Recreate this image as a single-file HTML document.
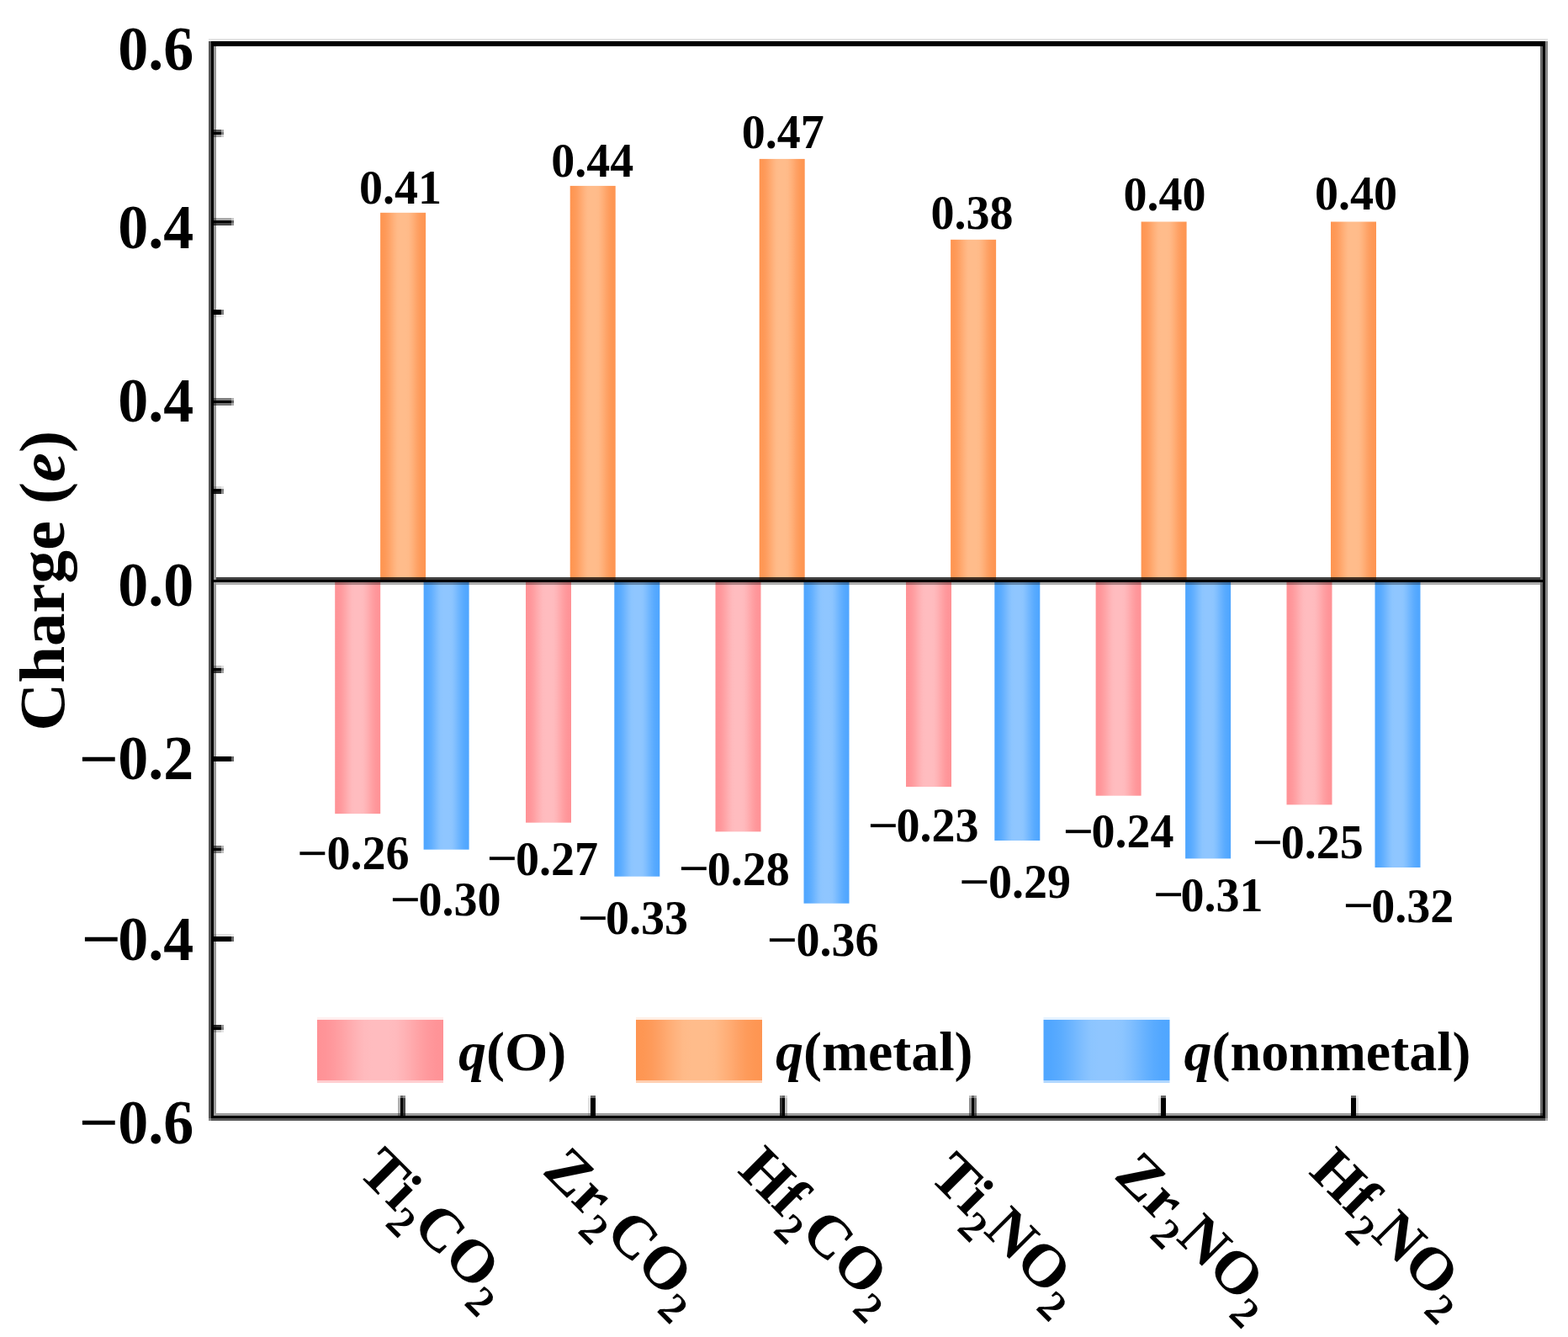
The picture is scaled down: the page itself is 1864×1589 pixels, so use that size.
<!DOCTYPE html>
<html><head><meta charset="utf-8"><title>Charge</title>
<style>
html,body{margin:0;padding:0;background:#fff;}
body{width:1864px;height:1589px;overflow:hidden;}
svg{display:block;}
.b{font-family:"Liberation Serif","Times New Roman",serif;font-weight:bold;fill:#000;}
</style></head><body>
<svg width="1864" height="1589" viewBox="0 0 1864 1589">
<defs><linearGradient id="gp" x1="0" x2="1" y1="0" y2="0"><stop offset="0.000" stop-color="#ff9296"/><stop offset="0.062" stop-color="#ff9498"/><stop offset="0.125" stop-color="#ff999d"/><stop offset="0.188" stop-color="#ffa1a4"/><stop offset="0.250" stop-color="#ffaaad"/><stop offset="0.312" stop-color="#ffb3b6"/><stop offset="0.375" stop-color="#ffbabd"/><stop offset="0.438" stop-color="#ffbcbf"/><stop offset="0.500" stop-color="#ffbcbf"/><stop offset="0.562" stop-color="#ffbcbf"/><stop offset="0.625" stop-color="#ffbabd"/><stop offset="0.688" stop-color="#ffb3b6"/><stop offset="0.750" stop-color="#ffaaad"/><stop offset="0.812" stop-color="#ffa1a4"/><stop offset="0.875" stop-color="#ff999d"/><stop offset="0.938" stop-color="#ff9498"/><stop offset="1.000" stop-color="#ff9296"/></linearGradient><linearGradient id="go" x1="0" x2="1" y1="0" y2="0"><stop offset="0.000" stop-color="#fe9552"/><stop offset="0.062" stop-color="#fe9754"/><stop offset="0.125" stop-color="#fe9b5b"/><stop offset="0.188" stop-color="#fea266"/><stop offset="0.250" stop-color="#ffab72"/><stop offset="0.312" stop-color="#ffb37e"/><stop offset="0.375" stop-color="#ffba88"/><stop offset="0.438" stop-color="#ffbc8b"/><stop offset="0.500" stop-color="#ffbc8b"/><stop offset="0.562" stop-color="#ffbc8b"/><stop offset="0.625" stop-color="#ffba88"/><stop offset="0.688" stop-color="#ffb37e"/><stop offset="0.750" stop-color="#ffab72"/><stop offset="0.812" stop-color="#fea266"/><stop offset="0.875" stop-color="#fe9b5b"/><stop offset="0.938" stop-color="#fe9754"/><stop offset="1.000" stop-color="#fe9552"/></linearGradient><linearGradient id="gb" x1="0" x2="1" y1="0" y2="0"><stop offset="0.000" stop-color="#4fa6ff"/><stop offset="0.062" stop-color="#52a7ff"/><stop offset="0.125" stop-color="#59abff"/><stop offset="0.188" stop-color="#65b1ff"/><stop offset="0.250" stop-color="#73b8ff"/><stop offset="0.312" stop-color="#81bfff"/><stop offset="0.375" stop-color="#8cc5ff"/><stop offset="0.438" stop-color="#8fc6ff"/><stop offset="0.500" stop-color="#8fc6ff"/><stop offset="0.562" stop-color="#8fc6ff"/><stop offset="0.625" stop-color="#8cc5ff"/><stop offset="0.688" stop-color="#81bfff"/><stop offset="0.750" stop-color="#73b8ff"/><stop offset="0.812" stop-color="#65b1ff"/><stop offset="0.875" stop-color="#59abff"/><stop offset="0.938" stop-color="#52a7ff"/><stop offset="1.000" stop-color="#4fa6ff"/></linearGradient></defs>
<rect x="0" y="0" width="1864" height="1589" fill="#fff"/>
<rect x="398.2" y="689.9" width="54.0" height="277.2" fill="url(#gp)"/>
<rect x="452.1" y="252.8" width="54.0" height="437.1" fill="url(#go)"/>
<rect x="503.6" y="689.9" width="54.0" height="319.8" fill="url(#gb)"/>
<rect x="625.0" y="689.9" width="54.0" height="287.8" fill="url(#gp)"/>
<rect x="677.7" y="220.9" width="54.0" height="469.0" fill="url(#go)"/>
<rect x="730.3" y="689.9" width="54.0" height="351.8" fill="url(#gb)"/>
<rect x="850.5" y="689.9" width="54.0" height="298.5" fill="url(#gp)"/>
<rect x="902.7" y="188.9" width="54.0" height="501.0" fill="url(#go)"/>
<rect x="955.5" y="689.9" width="54.0" height="383.8" fill="url(#gb)"/>
<rect x="1077.0" y="689.9" width="54.0" height="245.2" fill="url(#gp)"/>
<rect x="1130.1" y="284.8" width="54.0" height="405.1" fill="url(#go)"/>
<rect x="1182.3" y="689.9" width="54.0" height="309.1" fill="url(#gb)"/>
<rect x="1302.6" y="689.9" width="54.0" height="255.8" fill="url(#gp)"/>
<rect x="1356.6" y="263.5" width="54.0" height="426.4" fill="url(#go)"/>
<rect x="1409.1" y="689.9" width="54.0" height="330.5" fill="url(#gb)"/>
<rect x="1529.5" y="689.9" width="54.0" height="266.5" fill="url(#gp)"/>
<rect x="1582.0" y="263.5" width="54.0" height="426.4" fill="url(#go)"/>
<rect x="1634.5" y="689.9" width="54.0" height="341.1" fill="url(#gb)"/>
<rect x="248" y="46" width="1592" height="2" fill="#000" fill-opacity="0.1" shape-rendering="crispEdges"/>
<rect x="248" y="48" width="1592" height="1" fill="#000" fill-opacity="0.05" shape-rendering="crispEdges"/>
<rect x="254" y="1323" width="1580" height="3" fill="#000" fill-opacity="0.39" shape-rendering="crispEdges"/>
<rect x="251" y="1329" width="1586" height="3" fill="#000" fill-opacity="0.66" shape-rendering="crispEdges"/>
<rect x="248" y="49" width="3" height="1280" fill="#000" fill-opacity="0.655" shape-rendering="crispEdges"/>
<rect x="248" y="1329" width="3" height="3" fill="#000" fill-opacity="0.47" shape-rendering="crispEdges"/>
<rect x="254" y="55" width="3" height="1268" fill="#000" fill-opacity="0.4" shape-rendering="crispEdges"/>
<rect x="1831" y="55" width="3" height="1271" fill="#000" fill-opacity="0.6" shape-rendering="crispEdges"/>
<rect x="1837" y="49" width="3" height="1280" fill="#000" fill-opacity="0.47" shape-rendering="crispEdges"/>
<rect x="1837" y="1329" width="3" height="3" fill="#000" fill-opacity="0.33" shape-rendering="crispEdges"/>
<rect x="257" y="686" width="1574" height="3" fill="#000" fill-opacity="0.75" shape-rendering="crispEdges"/>
<rect x="257" y="692" width="1574" height="3" fill="#000" fill-opacity="0.32" shape-rendering="crispEdges"/>
<rect x="251" y="49" width="1586" height="6" fill="#000" fill-opacity="1" shape-rendering="crispEdges"/>
<rect x="251" y="1326" width="1586" height="3" fill="#000" fill-opacity="1" shape-rendering="crispEdges"/>
<rect x="251" y="49" width="3" height="1280" fill="#000" fill-opacity="1" shape-rendering="crispEdges"/>
<rect x="1834" y="49" width="3" height="1280" fill="#000" fill-opacity="1" shape-rendering="crispEdges"/>
<rect x="254" y="689" width="1580" height="3" fill="#000" fill-opacity="1" shape-rendering="crispEdges"/>
<rect x="254" y="259" width="21" height="3" fill="#000" fill-opacity="0.34" shape-rendering="crispEdges"/>
<rect x="275" y="259" width="3" height="3" fill="#000" fill-opacity="0.204" shape-rendering="crispEdges"/>
<rect x="254" y="262" width="21" height="3" fill="#000" fill-opacity="1" shape-rendering="crispEdges"/>
<rect x="275" y="262" width="3" height="3" fill="#000" fill-opacity="0.6" shape-rendering="crispEdges"/>
<rect x="254" y="265" width="21" height="3" fill="#000" fill-opacity="0.72" shape-rendering="crispEdges"/>
<rect x="275" y="265" width="3" height="3" fill="#000" fill-opacity="0.432" shape-rendering="crispEdges"/>
<rect x="254" y="473" width="21" height="3" fill="#000" fill-opacity="0.5" shape-rendering="crispEdges"/>
<rect x="275" y="473" width="3" height="3" fill="#000" fill-opacity="0.3" shape-rendering="crispEdges"/>
<rect x="254" y="476" width="21" height="3" fill="#000" fill-opacity="1" shape-rendering="crispEdges"/>
<rect x="275" y="476" width="3" height="3" fill="#000" fill-opacity="0.6" shape-rendering="crispEdges"/>
<rect x="254" y="479" width="21" height="3" fill="#000" fill-opacity="0.55" shape-rendering="crispEdges"/>
<rect x="275" y="479" width="3" height="3" fill="#000" fill-opacity="0.33" shape-rendering="crispEdges"/>
<rect x="254" y="899" width="21" height="6" fill="#000" fill-opacity="1" shape-rendering="crispEdges"/>
<rect x="275" y="899" width="3" height="6" fill="#000" fill-opacity="0.6" shape-rendering="crispEdges"/>
<rect x="254" y="1110" width="21" height="3" fill="#000" fill-opacity="0.12" shape-rendering="crispEdges"/>
<rect x="275" y="1110" width="3" height="3" fill="#000" fill-opacity="0.072" shape-rendering="crispEdges"/>
<rect x="254" y="1113" width="21" height="6" fill="#000" fill-opacity="1" shape-rendering="crispEdges"/>
<rect x="275" y="1113" width="3" height="6" fill="#000" fill-opacity="0.6" shape-rendering="crispEdges"/>
<rect x="254" y="154" width="9" height="3" fill="#000" fill-opacity="0.65" shape-rendering="crispEdges"/>
<rect x="263" y="154" width="3" height="3" fill="#000" fill-opacity="0.325" shape-rendering="crispEdges"/>
<rect x="254" y="157" width="9" height="3" fill="#000" fill-opacity="1" shape-rendering="crispEdges"/>
<rect x="263" y="157" width="3" height="3" fill="#000" fill-opacity="0.5" shape-rendering="crispEdges"/>
<rect x="254" y="160" width="9" height="3" fill="#000" fill-opacity="0.37" shape-rendering="crispEdges"/>
<rect x="263" y="160" width="3" height="3" fill="#000" fill-opacity="0.185" shape-rendering="crispEdges"/>
<rect x="254" y="368" width="9" height="6" fill="#000" fill-opacity="1" shape-rendering="crispEdges"/>
<rect x="263" y="368" width="3" height="6" fill="#000" fill-opacity="0.5" shape-rendering="crispEdges"/>
<rect x="254" y="374" width="9" height="3" fill="#000" fill-opacity="0.1" shape-rendering="crispEdges"/>
<rect x="263" y="374" width="3" height="3" fill="#000" fill-opacity="0.05" shape-rendering="crispEdges"/>
<rect x="254" y="578" width="9" height="3" fill="#000" fill-opacity="0.18" shape-rendering="crispEdges"/>
<rect x="263" y="578" width="3" height="3" fill="#000" fill-opacity="0.09" shape-rendering="crispEdges"/>
<rect x="254" y="581" width="9" height="3" fill="#000" fill-opacity="1" shape-rendering="crispEdges"/>
<rect x="263" y="581" width="3" height="3" fill="#000" fill-opacity="0.5" shape-rendering="crispEdges"/>
<rect x="254" y="584" width="9" height="3" fill="#000" fill-opacity="0.87" shape-rendering="crispEdges"/>
<rect x="263" y="584" width="3" height="3" fill="#000" fill-opacity="0.435" shape-rendering="crispEdges"/>
<rect x="254" y="791" width="9" height="3" fill="#000" fill-opacity="0.25" shape-rendering="crispEdges"/>
<rect x="263" y="791" width="3" height="3" fill="#000" fill-opacity="0.125" shape-rendering="crispEdges"/>
<rect x="254" y="794" width="9" height="3" fill="#000" fill-opacity="1" shape-rendering="crispEdges"/>
<rect x="263" y="794" width="3" height="3" fill="#000" fill-opacity="0.5" shape-rendering="crispEdges"/>
<rect x="254" y="797" width="9" height="3" fill="#000" fill-opacity="0.73" shape-rendering="crispEdges"/>
<rect x="263" y="797" width="3" height="3" fill="#000" fill-opacity="0.365" shape-rendering="crispEdges"/>
<rect x="254" y="1005" width="9" height="3" fill="#000" fill-opacity="0.58" shape-rendering="crispEdges"/>
<rect x="263" y="1005" width="3" height="3" fill="#000" fill-opacity="0.29" shape-rendering="crispEdges"/>
<rect x="254" y="1008" width="9" height="3" fill="#000" fill-opacity="1" shape-rendering="crispEdges"/>
<rect x="263" y="1008" width="3" height="3" fill="#000" fill-opacity="0.5" shape-rendering="crispEdges"/>
<rect x="254" y="1011" width="9" height="3" fill="#000" fill-opacity="0.46" shape-rendering="crispEdges"/>
<rect x="263" y="1011" width="3" height="3" fill="#000" fill-opacity="0.23" shape-rendering="crispEdges"/>
<rect x="254" y="1218" width="9" height="3" fill="#000" fill-opacity="0.83" shape-rendering="crispEdges"/>
<rect x="263" y="1218" width="3" height="3" fill="#000" fill-opacity="0.415" shape-rendering="crispEdges"/>
<rect x="254" y="1221" width="9" height="3" fill="#000" fill-opacity="1" shape-rendering="crispEdges"/>
<rect x="263" y="1221" width="3" height="3" fill="#000" fill-opacity="0.5" shape-rendering="crispEdges"/>
<rect x="254" y="1224" width="9" height="3" fill="#000" fill-opacity="0.2" shape-rendering="crispEdges"/>
<rect x="263" y="1224" width="3" height="3" fill="#000" fill-opacity="0.1" shape-rendering="crispEdges"/>
<rect x="473" y="1305" width="3" height="21" fill="#000" fill-opacity="0.31" shape-rendering="crispEdges"/>
<rect x="473" y="1302" width="3" height="3" fill="#000" fill-opacity="0.186" shape-rendering="crispEdges"/>
<rect x="476" y="1305" width="3" height="21" fill="#000" fill-opacity="1" shape-rendering="crispEdges"/>
<rect x="476" y="1302" width="3" height="3" fill="#000" fill-opacity="0.6" shape-rendering="crispEdges"/>
<rect x="479" y="1305" width="3" height="21" fill="#000" fill-opacity="0.72" shape-rendering="crispEdges"/>
<rect x="479" y="1302" width="3" height="3" fill="#000" fill-opacity="0.432" shape-rendering="crispEdges"/>
<rect x="699" y="1305" width="3" height="21" fill="#000" fill-opacity="0.12" shape-rendering="crispEdges"/>
<rect x="699" y="1302" width="3" height="3" fill="#000" fill-opacity="0.072" shape-rendering="crispEdges"/>
<rect x="702" y="1305" width="6" height="21" fill="#000" fill-opacity="1" shape-rendering="crispEdges"/>
<rect x="702" y="1302" width="6" height="3" fill="#000" fill-opacity="0.6" shape-rendering="crispEdges"/>
<rect x="927" y="1305" width="3" height="21" fill="#000" fill-opacity="0.8" shape-rendering="crispEdges"/>
<rect x="927" y="1302" width="3" height="3" fill="#000" fill-opacity="0.48" shape-rendering="crispEdges"/>
<rect x="930" y="1305" width="3" height="21" fill="#000" fill-opacity="1" shape-rendering="crispEdges"/>
<rect x="930" y="1302" width="3" height="3" fill="#000" fill-opacity="0.6" shape-rendering="crispEdges"/>
<rect x="933" y="1305" width="3" height="21" fill="#000" fill-opacity="0.25" shape-rendering="crispEdges"/>
<rect x="933" y="1302" width="3" height="3" fill="#000" fill-opacity="0.15" shape-rendering="crispEdges"/>
<rect x="1152" y="1305" width="3" height="21" fill="#000" fill-opacity="0.44" shape-rendering="crispEdges"/>
<rect x="1152" y="1302" width="3" height="3" fill="#000" fill-opacity="0.264" shape-rendering="crispEdges"/>
<rect x="1155" y="1305" width="3" height="21" fill="#000" fill-opacity="1" shape-rendering="crispEdges"/>
<rect x="1155" y="1302" width="3" height="3" fill="#000" fill-opacity="0.6" shape-rendering="crispEdges"/>
<rect x="1158" y="1305" width="3" height="21" fill="#000" fill-opacity="0.58" shape-rendering="crispEdges"/>
<rect x="1158" y="1302" width="3" height="3" fill="#000" fill-opacity="0.348" shape-rendering="crispEdges"/>
<rect x="1377" y="1305" width="3" height="21" fill="#000" fill-opacity="0.12" shape-rendering="crispEdges"/>
<rect x="1377" y="1302" width="3" height="3" fill="#000" fill-opacity="0.072" shape-rendering="crispEdges"/>
<rect x="1380" y="1305" width="6" height="21" fill="#000" fill-opacity="1" shape-rendering="crispEdges"/>
<rect x="1380" y="1302" width="6" height="3" fill="#000" fill-opacity="0.6" shape-rendering="crispEdges"/>
<rect x="1606" y="1305" width="6" height="21" fill="#000" fill-opacity="1" shape-rendering="crispEdges"/>
<rect x="1606" y="1302" width="6" height="3" fill="#000" fill-opacity="0.6" shape-rendering="crispEdges"/>
<rect x="1612" y="1305" width="3" height="21" fill="#000" fill-opacity="0.12" shape-rendering="crispEdges"/>
<rect x="1612" y="1302" width="3" height="3" fill="#000" fill-opacity="0.072" shape-rendering="crispEdges"/>
<text transform="translate(140.3,83.0) scale(1,1.03)" font-size="72" class="b">0.6</text>
<text transform="translate(140.3,294.7) scale(1,1.03)" font-size="72" class="b">0.4</text>
<text transform="translate(140.3,501.1) scale(1,1.03)" font-size="72" class="b">0.4</text>
<text transform="translate(140.3,719.9) scale(1,1.03)" font-size="72" class="b">0.0</text>
<text transform="translate(140.3,925.7) scale(1,1.03)" font-size="72" class="b">0.2</text>
<text transform="translate(93.6,925.9) scale(1.16,1)" font-size="72" class="b">−</text>
<text transform="translate(140.3,1140.9) scale(1,1.03)" font-size="72" class="b">0.4</text>
<text transform="translate(96.5,1139.7) scale(1.16,1)" font-size="72" class="b">−</text>
<text transform="translate(140.3,1358.9) scale(1,1.03)" font-size="72" class="b">0.6</text>
<text transform="translate(93.6,1358.4) scale(1.16,1)" font-size="72" class="b">−</text>
<text x="426.9" y="242.0" font-size="56" class="b">0.41</text>
<text x="388.4" y="1033.1" font-size="56" class="b">0.26</text>
<text transform="translate(353.1,1032.8) scale(1.15,1)" font-size="56" class="b">−</text>
<text x="497.5" y="1088.0" font-size="56" class="b">0.30</text>
<text transform="translate(463.6,1087.7) scale(1.15,1)" font-size="56" class="b">−</text>
<text x="655.2" y="209.5" font-size="56" class="b">0.44</text>
<text x="613.0" y="1039.5" font-size="56" class="b">0.27</text>
<text transform="translate(578.5,1039.2) scale(1.15,1)" font-size="56" class="b">−</text>
<text x="720.0" y="1110.0" font-size="56" class="b">0.33</text>
<text transform="translate(686.6,1109.7) scale(1.15,1)" font-size="56" class="b">−</text>
<text x="881.7" y="175.7" font-size="56" class="b">0.47</text>
<text x="840.8" y="1051.6" font-size="56" class="b">0.28</text>
<text transform="translate(806.4,1051.3) scale(1.15,1)" font-size="56" class="b">−</text>
<text x="946.4" y="1136.0" font-size="56" class="b">0.36</text>
<text transform="translate(911.6,1135.7) scale(1.15,1)" font-size="56" class="b">−</text>
<text x="1106.5" y="271.5" font-size="56" class="b">0.38</text>
<text x="1065.5" y="1000.2" font-size="56" class="b">0.23</text>
<text transform="translate(1031.4,999.9) scale(1.15,1)" font-size="56" class="b">−</text>
<text x="1175.0" y="1067.2" font-size="56" class="b">0.29</text>
<text transform="translate(1140.1,1066.9) scale(1.15,1)" font-size="56" class="b">−</text>
<text x="1335.5" y="250.2" font-size="56" class="b">0.40</text>
<text x="1297.5" y="1007.4" font-size="56" class="b">0.24</text>
<text transform="translate(1263.5,1007.1) scale(1.15,1)" font-size="56" class="b">−</text>
<text x="1403.4" y="1082.7" font-size="56" class="b">0.31</text>
<text transform="translate(1370.8,1082.4) scale(1.15,1)" font-size="56" class="b">−</text>
<text x="1562.9" y="249.0" font-size="56" class="b">0.40</text>
<text x="1522.7" y="1020.2" font-size="56" class="b">0.25</text>
<text transform="translate(1488.5,1019.9) scale(1.15,1)" font-size="56" class="b">−</text>
<text x="1630.2" y="1095.5" font-size="56" class="b">0.32</text>
<text transform="translate(1596.6,1095.2) scale(1.15,1)" font-size="56" class="b">−</text>
<text transform="translate(76,690.2) rotate(-90) scale(1.025,1)" font-size="77" text-anchor="middle" class="b">Charge (<tspan font-style="italic">e</tspan>)</text>
<text transform="translate(423.5,1394.0) rotate(45)" font-size="72" class="b">Ti<tspan font-size="50" dy="20">2</tspan><tspan dy="-20">CO</tspan><tspan font-size="50" dy="20">2</tspan></text>
<text transform="translate(643.2,1393.0) rotate(45)" font-size="72" class="b">Zr<tspan font-size="50" dy="20">2</tspan><tspan dy="-20">CO</tspan><tspan font-size="50" dy="20">2</tspan></text>
<text transform="translate(875.4,1392.5) rotate(45)" font-size="72" class="b">Hf<tspan font-size="50" dy="20">2</tspan><tspan dy="-20">CO</tspan><tspan font-size="50" dy="20">2</tspan></text>
<text transform="translate(1103.1,1399.5) rotate(45)" font-size="72" class="b">Ti<tspan font-size="50" dy="20">2</tspan><tspan dy="-20">NO</tspan><tspan font-size="50" dy="20">2</tspan></text>
<text transform="translate(1322.8,1398.5) rotate(45)" font-size="72" class="b">Zr<tspan font-size="50" dy="20">2</tspan><tspan dy="-20">NO</tspan><tspan font-size="50" dy="20">2</tspan></text>
<text transform="translate(1554.5,1394.0) rotate(45)" font-size="72" class="b">Hf<tspan font-size="50" dy="20">2</tspan><tspan dy="-20">NO</tspan><tspan font-size="50" dy="20">2</tspan></text>
<rect x="377" y="1209" width="150" height="3" fill="#ff9296" fill-opacity="0.15"/>
<rect x="377" y="1284" width="150" height="3" fill="#ff9296" fill-opacity="0.45"/>
<rect x="377" y="1212" width="150" height="72" fill="url(#gp)"/>
<text x="545" y="1272" font-size="66" class="b"><tspan font-style="italic">q</tspan>(O)</text>
<rect x="756" y="1209" width="150" height="3" fill="#fe9552" fill-opacity="0.15"/>
<rect x="756" y="1284" width="150" height="3" fill="#fe9552" fill-opacity="0.45"/>
<rect x="756" y="1212" width="150" height="72" fill="url(#go)"/>
<text x="922" y="1272" font-size="66" class="b"><tspan font-style="italic">q</tspan>(metal)</text>
<rect x="1240.5" y="1209" width="150" height="3" fill="#4fa6ff" fill-opacity="0.15"/>
<rect x="1240.5" y="1284" width="150" height="3" fill="#4fa6ff" fill-opacity="0.45"/>
<rect x="1240.5" y="1212" width="150" height="72" fill="url(#gb)"/>
<text x="1407.5" y="1272" font-size="66" class="b"><tspan font-style="italic">q</tspan>(nonmetal)</text>
</svg>
</body></html>
